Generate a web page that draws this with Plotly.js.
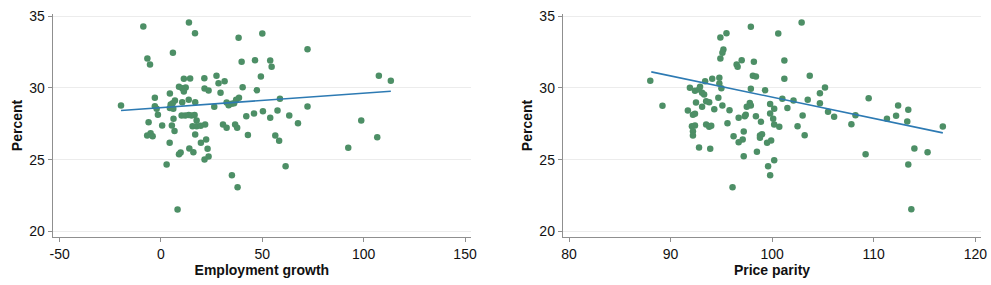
<!DOCTYPE html>
<html>
<head>
<meta charset="utf-8">
<script src="https://cdn.plot.ly/plotly-3.0.1.min.js"></script>
<style>html,body{margin:0;padding:0;background:#fff;}#chart{width:991px;height:285px;}</style>
</head>
<body>
<div id="chart"></div>
<script>
// Left panel: employment growth vs percent
const empGrowth = [-8.7, 13.8, 16.8, 5.9, -6.7, -5.4, 11.3, 14.4, 21.4, 8.9, 10.5, 12.2, 11.3, 21.5, 23.5, 27.4, 28.4, 4.4, -3, 13.7, 16.9, 6.9, 5.8, 4.8, 10.5, -3, -2.1, 4.4, 6.1, -1.5, 6.2, 10.2, 12, 13.7, 15.1, 16.6, 17.6, -6.1, 0.6, 5.4, 6.7, 15.6, 17.6, 19.6, 21.8, -6.8, -5.1, -4.1, 16.9, 22.3, 19.7, 4.3, 14, 16, 8.9, 9.7, 23, 23.5, 21.5, 2.8, 8.2, 26.3,
  38.3, 50, 39.8, 46.4, 53.9, 54.6, 49.3, 31.4, 40.3, 47.3, 29.4, 38.5, 37.1, 32.4, 33.4, 34.9, 36.1, 58.7, 42.1, 45.9, 50.3, 53.9, 57.5, 63.3, 67.6, 30.6, 32.4, 36.6, 37.6, 42.9, 56.4, 58.3, 61.5, 35, 37.8,
  72.3, 107.5, 113.4, 72.3, 98.8, 106.7, 92.4, -19.7];
const pctLeft = [34.27, 34.55, 33.8, 32.44, 32.04, 31.62, 30.63, 30.65, 30.67, 30.07, 29.97, 30.02, 29.74, 29.95, 29.81, 30.84, 30.32, 29.6, 29.3, 29.16, 29.0, 29.11, 28.93, 28.84, 29.0, 28.72, 28.54, 28.6, 28.54, 28.12, 27.84, 28.07, 28.07, 28.1, 28.07, 28.1, 27.72, 27.6, 27.37, 27.37, 27.0, 27.33, 27.33, 27.35, 27.44, 26.68, 26.84, 26.63, 26.75, 26.4, 26.17, 26.17, 25.77, 25.51, 25.37, 25.49, 25.75, 25.21, 25.0, 24.66, 21.52, 28.68,
  33.48, 33.78, 31.81, 31.92, 31.9, 31.46, 30.79, 30.46, 30.04, 29.83, 29.65, 29.3, 29.16, 28.98, 28.79, 28.89, 28.93, 29.23, 28.02, 28.21, 28.37, 27.91, 28.42, 28.07, 27.53, 27.44, 27.21, 27.44, 27.21, 26.72, 26.68, 26.31, 24.54, 23.91, 23.07,
  32.69, 30.84, 30.49, 28.7, 27.72, 26.56, 25.82, 28.77];
const fitLeftX = [-19.7, 113.4];
const fitLeftY = [28.42, 29.76];

// Right panel: price parity vs percent
const priceParity = [88.0, 89.2, 94.9, 95.5, 95.2, 95.1, 94.9, 97.9, 100.6, 102.9, 96.5, 96.6, 97.0, 98.2, 101.2, 98.1, 98.4, 101.2, 103.7, 105.2, 104.7, 91.9, 92.4, 92.8, 92.9, 93.1, 93.3, 93.4, 94.1, 94.8, 94.8, 95.0, 94.7, 92.5, 93.5, 93.8, 95.1, 93.1, 94.3, 91.7, 92.4, 92.2, 93.5, 93.8, 94.0, 92.1, 92.4, 92.2, 92.2, 92.8, 93.9,
  97.9, 99.3, 101.0, 102.1, 103.5, 104.7, 95.8, 95.6, 96.7, 97.4, 97.3, 97.8, 97.9, 97.5, 98.4, 98.9, 99.8, 100.2, 99.8, 100.1, 100.2, 100.7, 101.5, 103.0, 102.5, 103.2, 96.2, 97.2, 97.1, 96.7, 98.8, 99.0, 98.8, 99.5, 99.9, 98.5, 97.2, 100.2, 99.6, 99.8, 96.1,
  109.5, 112.4, 113.4, 105.5, 106.1, 108.2, 107.8, 111.3, 112.2, 113.3, 116.8, 109.2, 114.0, 115.3, 113.4, 113.7];
const pctRight = [30.49, 28.75, 33.5, 33.8, 32.67, 32.44, 32.04, 34.25, 33.78, 34.55, 31.62, 31.46, 31.92, 31.81, 31.9, 30.84, 30.79, 30.63, 30.84, 30.02, 29.62, 30.0, 29.79, 29.88, 30.07, 29.65, 29.53, 30.46, 30.63, 30.7, 30.3, 29.97, 29.3, 28.98, 29.07, 29.0, 28.77, 28.68, 28.51, 28.42, 28.19, 28.12, 27.44, 27.28, 27.35, 27.33, 27.37, 26.98, 26.68, 25.84, 25.75,
  29.93, 29.83, 29.23, 29.11, 29.16, 28.93, 28.44, 27.53, 27.91, 28.12, 28.02, 28.95, 28.77, 28.68, 28.02, 27.63, 28.88, 28.54, 28.21, 27.84, 27.44, 27.28, 28.6, 28.07, 27.33, 26.7, 26.63, 26.95, 26.4, 26.21, 26.68, 26.77, 26.52, 26.17, 26.33, 25.54, 25.23, 24.95, 24.54, 23.91, 23.07,
  29.28, 28.77, 28.47, 28.33, 27.98, 28.09, 27.46, 27.84, 28.05, 27.65, 27.3, 25.37, 25.77, 25.51, 24.66, 21.54];
const fitRightX = [88.1, 116.8];
const fitRightY = [31.11, 26.86];

const xTicksLeft = [-50, 0, 50, 100, 150];
const xTicksRight = [80, 90, 100, 110, 120];
const yTicks = [20, 25, 30, 35];

const dotColor = '#4d8f66';
const lineColor = '#2d7ab3';
const fontFam = 'Arial, "Liberation Sans", sans-serif';

const traces = [
  {x: empGrowth, y: pctLeft, type: 'scatter', mode: 'markers', xaxis: 'x', yaxis: 'y',
   marker: {color: dotColor, size: 6.5}},
  {x: fitLeftX, y: fitLeftY, type: 'scatter', mode: 'lines', xaxis: 'x', yaxis: 'y',
   line: {color: lineColor, width: 1.6}},
  {x: priceParity, y: pctRight, type: 'scatter', mode: 'markers', xaxis: 'x2', yaxis: 'y2',
   marker: {color: dotColor, size: 6.5}},
  {x: fitRightX, y: fitRightY, type: 'scatter', mode: 'lines', xaxis: 'x2', yaxis: 'y2',
   line: {color: lineColor, width: 1.6}}
];

const axisCommon = {
  showline: true, linecolor: '#8f8f8f', linewidth: 1.3,
  ticks: 'outside', ticklen: 4, tickcolor: '#8f8f8f', tickwidth: 1,
  tickfont: {family: fontFam, size: 14, color: '#111'},
  zeroline: false, automargin: false
};

function xAxis(domain, range, ticks, title, anchor) {
  return Object.assign({}, axisCommon, {
    domain: domain, range: range, tickmode: 'array', tickvals: ticks,
    ticktext: ticks.map(String), showgrid: false, anchor: anchor,
    title: {text: title, font: {family: fontFam, size: 14, color: '#111', weight: 'bold'}, standoff: 2}
  });
}
function yAxis(anchor) {
  return Object.assign({}, axisCommon, {
    domain: [0, 1], range: [19.61, 35.14], tickmode: 'array', tickvals: yTicks,
    ticktext: yTicks.map(String), showgrid: true, gridcolor: '#ececec', gridwidth: 1,
    anchor: anchor,
    title: {text: 'Percent', font: {family: fontFam, size: 14, color: '#111', weight: 'bold'}, standoff: 3}
  });
}

const layout = {
  width: 991, height: 285,
  margin: {l: 53, r: 10, t: 14, b: 48},
  paper_bgcolor: '#fff', plot_bgcolor: '#fff',
  showlegend: false,
  font: {family: fontFam},
  xaxis: xAxis([0, 0.4501], [-53.25, 152.8], xTicksLeft, 'Employment growth', 'y'),
  yaxis: yAxis('x'),
  xaxis2: xAxis([0.5496, 1], [79.41, 120.56], xTicksRight, 'Price parity', 'y2'),
  yaxis2: yAxis('x2')
};

Plotly.newPlot('chart', traces, layout, {displayModeBar: false, staticPlot: true});
</script>
</body>
</html>
